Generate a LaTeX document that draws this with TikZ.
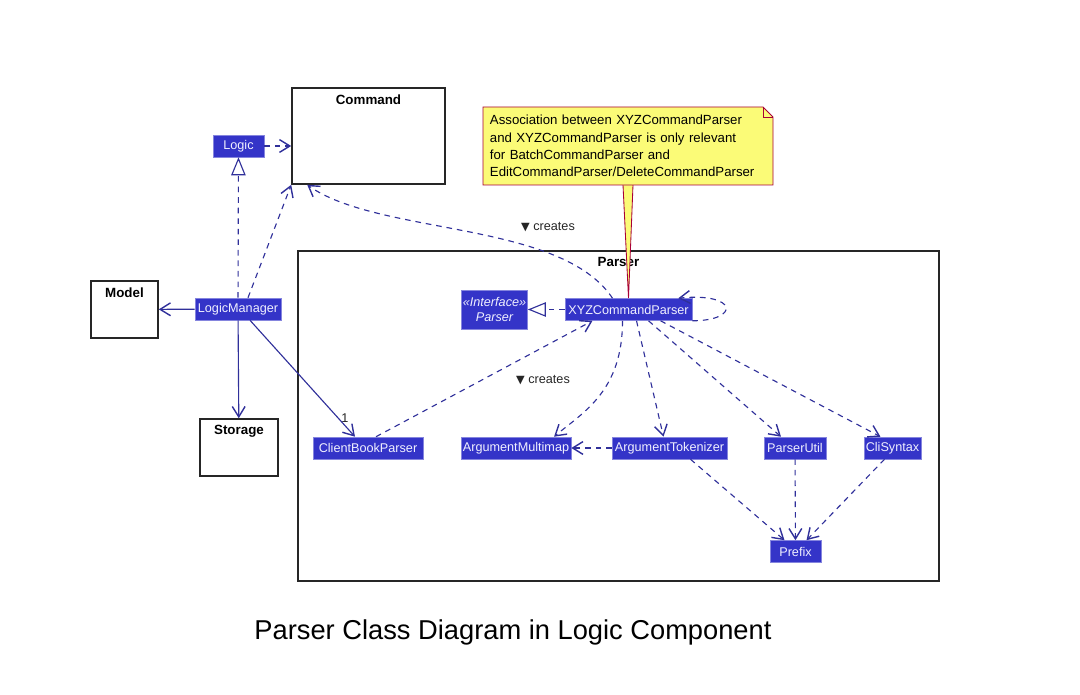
\documentclass[tikz,border=0pt]{standalone}
\usepackage{fontspec}
\setmainfont{Liberation Sans}
\newfontfamily\symb{DejaVu Sans}
\usetikzlibrary{arrows.meta}
\definecolor{umlblue}{HTML}{3434C8}
\definecolor{umledge}{HTML}{30309A}
\definecolor{umltext}{HTML}{F0F0FF}
\definecolor{notefill}{HTML}{FBFB77}
\definecolor{noteline}{HTML}{A80036}
\begin{document}
\begin{tikzpicture}[x=0.025cm, y=-0.025cm,
    cls/.style = {fill=umlblue, draw=umlblue!60!white, text=umltext, font=\fontsize{9}{11}\selectfont, inner sep=1pt, minimum height=0.55cm},
    pkg/.style = {draw=black!85, line width=1.1pt},
    title/.style = {font=\fontsize{9.5}{11}\bfseries\selectfont},
    dep/.style = {draw=umledge, line width=0.8pt, dash pattern=on 4pt off 3.5pt, -{Straight Barb[length=2.6mm,width=3.2mm,line width=1pt]}},
    assoc/.style = {draw=umledge, line width=0.8pt, -{Straight Barb[length=2.6mm,width=3.2mm,line width=1pt]}},
    real/.style = {draw=umledge, line width=0.8pt, dash pattern=on 4pt off 3.5pt, -{Triangle[open,fill=white,length=4.5mm,width=3.6mm]}},
    notetext/.style = {minimum width=7.25cm, minimum height=1.95cm, text width=6.9cm, inner xsep=0.175cm, align=left, font=\fontsize{9.4}{12.2}\selectfont},
    lbl/.style = {font=\fontsize{9}{11}\selectfont, text=black!85}]
  \useasboundingbox (0,0) rectangle (1080,695);

  \node[pkg, minimum width=3.825cm, minimum height=2.4cm, label={[title, anchor=north, inner sep=5pt]north:Command}] (command) at (368.5,136) {};
  \node[pkg, minimum width=1.675cm, minimum height=1.425cm, label={[title, anchor=north, inner sep=5pt]north:Model}] (model) at (124.5,309.5) {};
  \node[pkg, minimum width=1.95cm, minimum height=1.425cm, label={[title, anchor=north, inner sep=5pt]north:Storage}] (storage) at (239,447.5) {};
  \node[pkg, minimum width=16.025cm, minimum height=8.25cm, label={[title, anchor=north, inner sep=5pt]north:Parser}] (parser) at (618.5,416) {};

  \node[cls, minimum width=1.275cm] (logic) at (238.5,146) {Logic};
  \node[cls, minimum width=2.15cm] (lmgr) at (238,309) {LogicManager};

  \node[cls, minimum width=1.625cm, minimum height=0.975cm, align=center, font=\fontsize{9}{11}\itshape\selectfont] (iface) at (494.5,309.5) {«Interface»\\Parser};
  \node[cls, minimum width=3.175cm] (xyz) at (628.5,309.5) {XYZCommandParser};
  \node[cls, minimum width=2.75cm] (cbp) at (368,448) {ClientBookParser};
  \node[cls, minimum width=2.75cm] (amap) at (516,448) {ArgumentMultimap};
  \node[cls, minimum width=2.875cm] (atok) at (669.5,448) {ArgumentTokenizer};
  \node[cls, minimum width=1.55cm] (putil) at (795,448) {ParserUtil};
  \node[cls, minimum width=1.425cm] (cli) at (892.5,448) {CliSyntax};
  \node[cls, minimum width=1.275cm] (prefix) at (795.5,551.5) {Prefix};

  \coordinate (note) at (628,146);
  \filldraw[fill=notefill, draw=noteline, line width=0.6pt] (623,185) -- (xyz.north) -- (633,185);
  \filldraw[fill=notefill, draw=noteline, line width=0.6pt] (483,107) -- (763,107) -- (773,117) -- (773,185) -- (483,185) -- cycle;
  \draw[noteline, line width=0.6pt] (763,107) |- (773,117);
  \node[notetext] (notebody) at (note) {Association between XYZCommandParser\\and XYZCommandParser is only relevant\\for BatchCommandParser and\\EditCommandParser/DeleteCommandParser};

  \node[lbl] (creates1) at (548,227) {{\symb\fontsize{8}{9}\selectfont ▼} creates};
  \node[lbl] (creates2) at (543,380) {{\symb\fontsize{8}{9}\selectfont ▼} creates};
  \node[lbl] (mult) at (345,418) {1};

  \draw[dep] (logic) -- (logic -| command.west);
  \draw[real] (lmgr) -- (logic);
  \draw[dep] ([xshift=0.25cm]lmgr.north) -- (command.south west);
  \draw[assoc] (lmgr) -- (model);
  \draw[assoc] (lmgr) -- (storage);
  \draw[assoc] ([xshift=0.3cm]lmgr.south) -- ([xshift=-0.325cm]cbp.north);

  \draw[dep] ([xshift=-0.4cm]xyz.north) .. controls +(-52,-78) and +(72,51) .. ([xshift=0.4cm]command.south west);
  \draw[dep] ([xshift=0.2cm]cbp.north) -- ([xshift=-0.9cm]xyz.south);
  \draw[real] (xyz) -- (iface);
  \draw[dep] (xyz.south east) .. controls +(48,0) and +(60,-6) .. ([xshift=-0.35cm]xyz.north east);
  \draw[dep] ([xshift=-0.15cm]xyz.south) .. controls +(0,70) and +(30,-25) .. ([xshift=0.95cm]amap.north);
  \draw[dep] ([xshift=0.2cm]xyz.south) -- ([xshift=-0.15cm]atok.north);
  \draw[dep] ([xshift=0.5cm]xyz.south) -- ([xshift=-0.35cm]putil.north);
  \draw[dep] ([xshift=0.8cm]xyz.south) -- ([xshift=-0.3cm]cli.north);
  \draw[dep] (atok) -- (amap);
  \draw[dep] ([xshift=0.525cm]atok.south) -- ([xshift=-0.275cm]prefix.north);
  \draw[dep] (putil) -- (prefix);
  \draw[dep] ([xshift=-0.2cm]cli.south) -- ([xshift=0.275cm]prefix.north);

  \node[font=\fontsize{19.4}{22}\selectfont] (caption) at (513,632) {Parser Class Diagram in Logic Component};
\end{tikzpicture}
\end{document}
